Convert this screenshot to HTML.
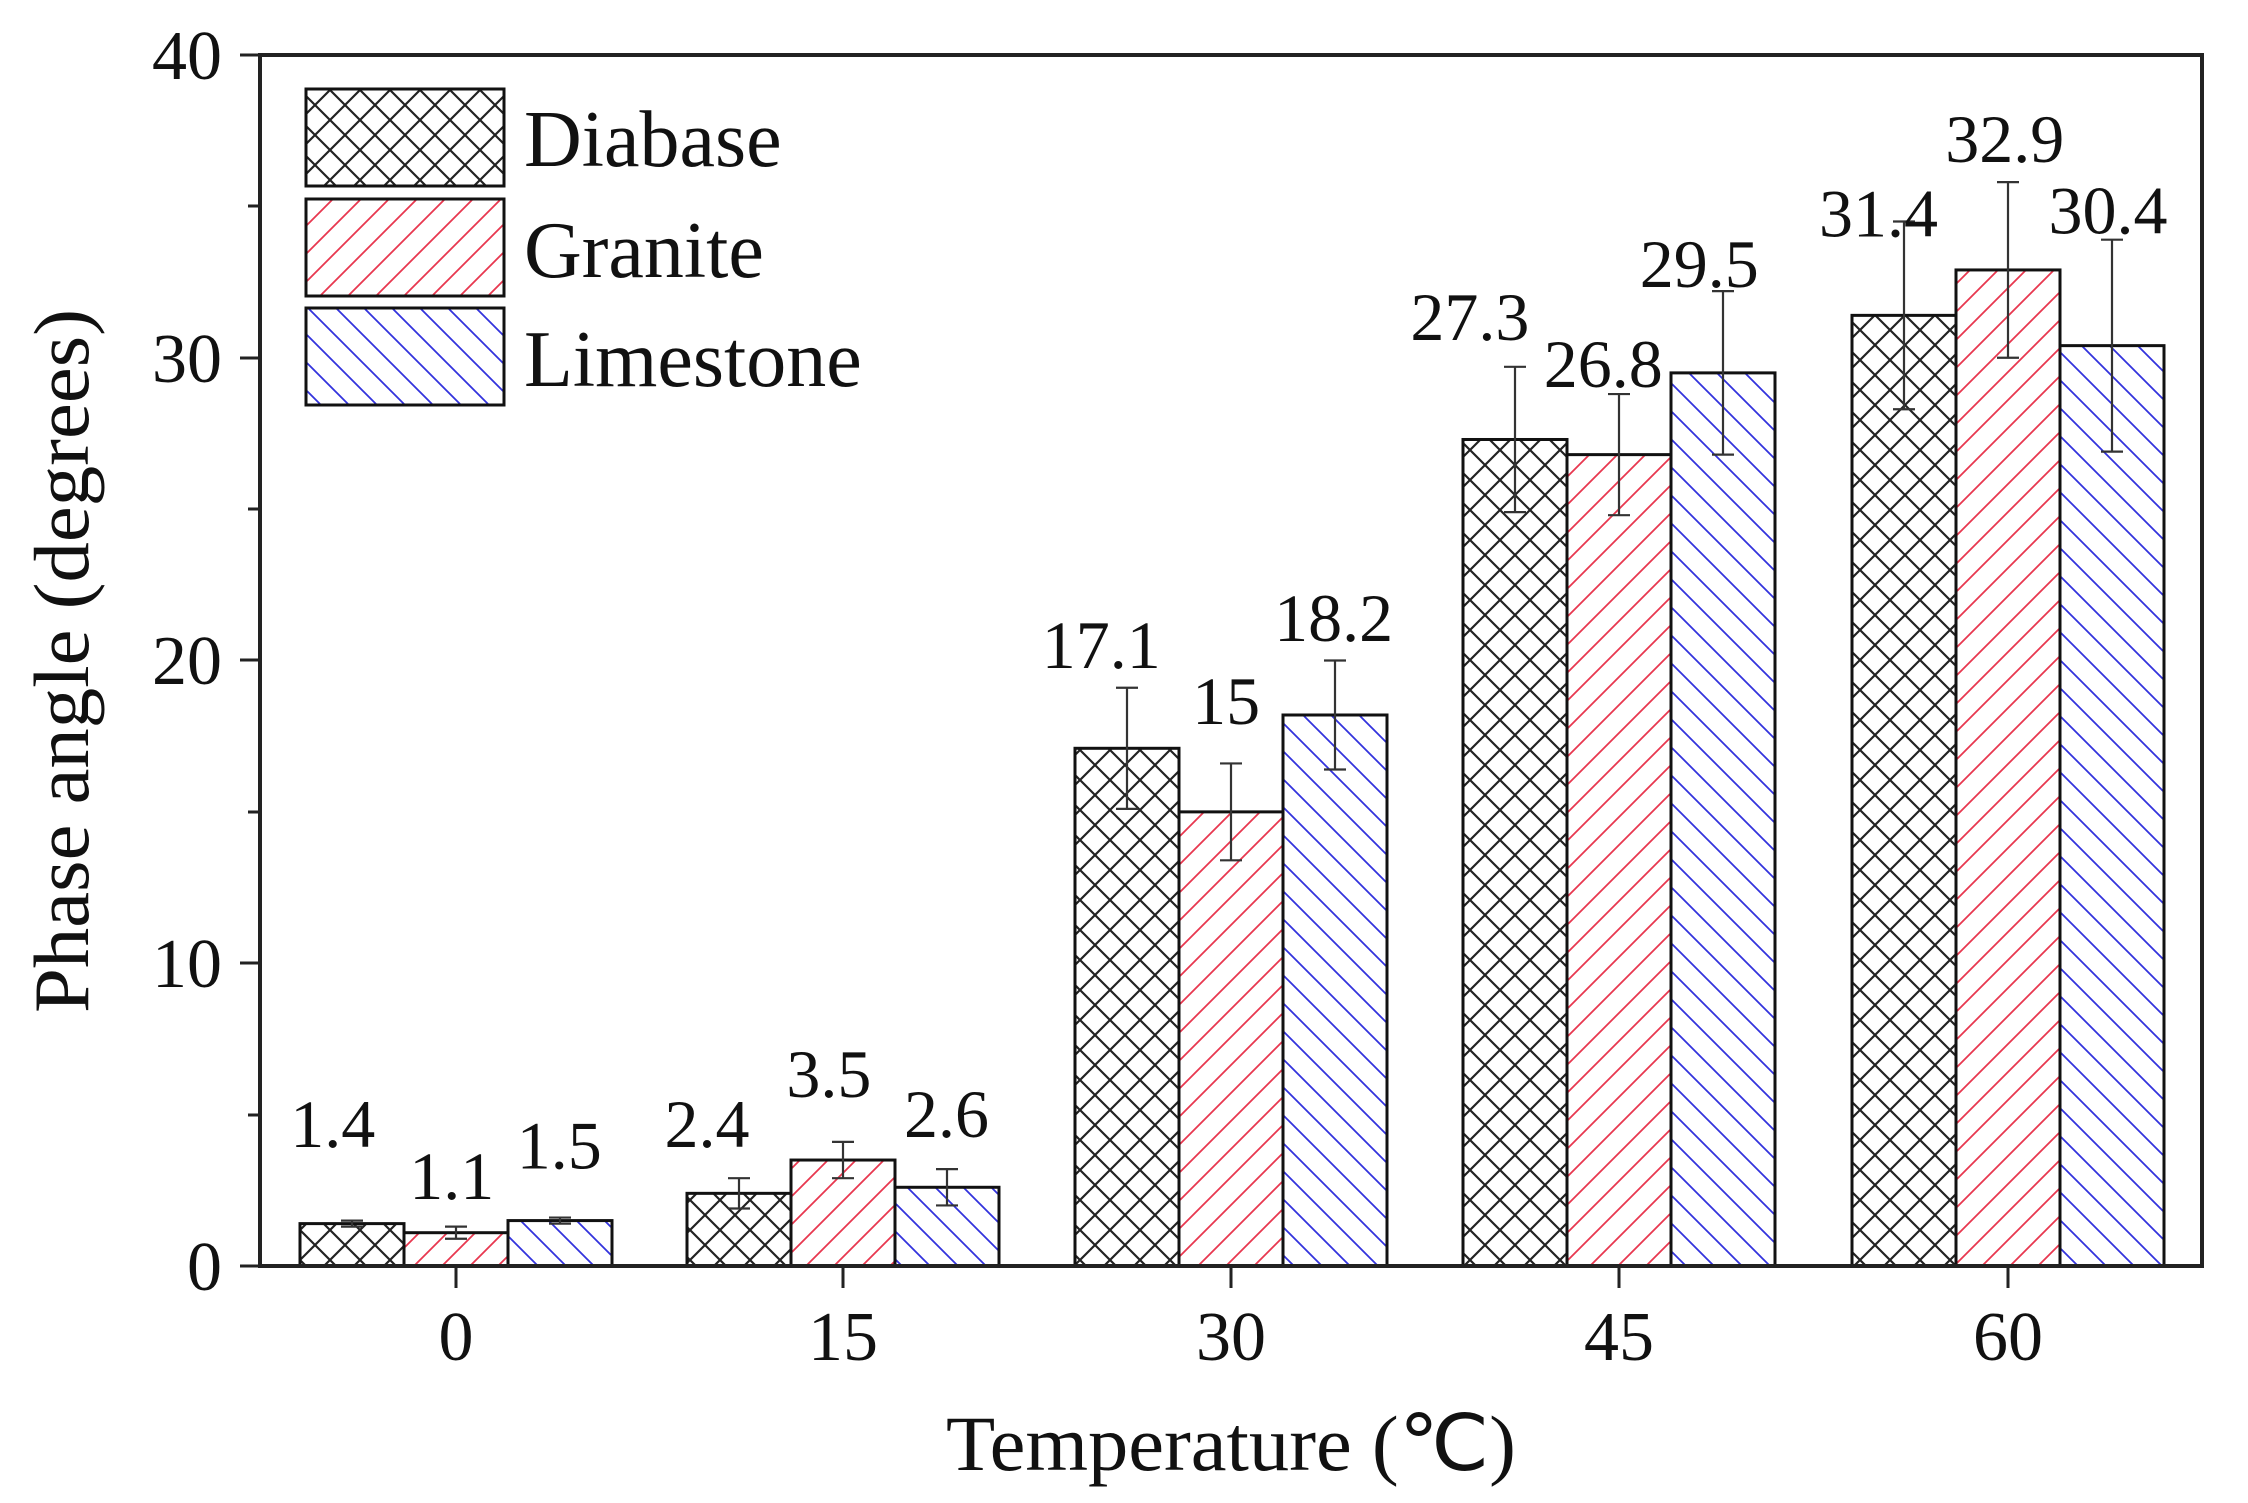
<!DOCTYPE html>
<html><head><meta charset="utf-8"><style>html,body{margin:0;padding:0;background:#fff}svg{display:block}</style></head>
<body>
<svg width="2248" height="1503" viewBox="0 0 2248 1503" xmlns="http://www.w3.org/2000/svg" font-family="'Liberation Serif', serif">
<defs>
<pattern id="pd" patternUnits="userSpaceOnUse" width="30" height="30">
<path d="M0,0 L30,30 M30,0 L0,30" stroke="#222" stroke-width="2.2"/>
</pattern>
<pattern id="pg" patternUnits="userSpaceOnUse" width="28" height="28">
<path d="M-6,6 L6,-6 M0,28 L28,0 M22,34 L34,22" stroke="#e8384f" stroke-width="1.8"/>
</pattern>
<pattern id="pl" patternUnits="userSpaceOnUse" width="28" height="28">
<path d="M-6,22 L6,34 M0,0 L28,28 M22,-6 L34,6" stroke="#3333dd" stroke-width="1.8"/>
</pattern>
</defs>
<rect width="2248" height="1503" fill="#fff"/>
<g id="bars" stroke="#111" stroke-width="3"></g>
<g id="err" stroke="#333" stroke-width="2.2" fill="none"></g>
<g id="labels" font-size="68" text-anchor="middle" fill="#111"></g>
<rect x="260" y="55" width="1942" height="1211" fill="none" stroke="#222" stroke-width="4"/>
<g stroke="#222" stroke-width="3">
<line x1="240" y1="1266" x2="260" y2="1266"/><line x1="240" y1="963" x2="260" y2="963"/><line x1="240" y1="660" x2="260" y2="660"/><line x1="240" y1="358" x2="260" y2="358"/><line x1="240" y1="55" x2="260" y2="55"/>
<line x1="248" y1="1115" x2="260" y2="1115"/><line x1="248" y1="812" x2="260" y2="812"/><line x1="248" y1="509" x2="260" y2="509"/><line x1="248" y1="206" x2="260" y2="206"/>
<line x1="456" y1="1266" x2="456" y2="1288"/><line x1="843" y1="1266" x2="843" y2="1288"/><line x1="1231" y1="1266" x2="1231" y2="1288"/><line x1="1619" y1="1266" x2="1619" y2="1288"/><line x1="2008" y1="1266" x2="2008" y2="1288"/>
</g>
<g font-size="70" text-anchor="end" fill="#111">
<text x="222" y="1290">0</text><text x="222" y="987">10</text><text x="222" y="684">20</text><text x="222" y="382">30</text><text x="222" y="79">40</text>
</g>
<g font-size="70" text-anchor="middle" fill="#111">
<text x="456" y="1360">0</text><text x="843" y="1360">15</text><text x="1231" y="1360">30</text><text x="1619" y="1360">45</text><text x="2008" y="1360">60</text>
</g>
<text x="1231" y="1470" font-size="78" text-anchor="middle" fill="#111" textLength="570" lengthAdjust="spacingAndGlyphs">Temperature (℃)</text>
<text transform="translate(88,661) rotate(-90)" font-size="78" text-anchor="middle" fill="#111" textLength="704" lengthAdjust="spacingAndGlyphs">Phase angle (degrees)</text>
<g stroke="#111" stroke-width="3">
<rect x="306" y="89" width="198" height="97" fill="url(#pd)"/>
<rect x="306" y="199" width="198" height="97" fill="url(#pg)"/>
<rect x="306" y="308" width="198" height="97" fill="url(#pl)"/>
</g>
<g font-size="80" fill="#111">
<text x="524" y="166">Diabase</text><text x="524" y="277">Granite</text><text x="524" y="386">Limestone</text>
</g>
<script>
(function(){
var ns="http://www.w3.org/2000/svg";
var centers=[456,843,1231,1619,2008];
var vals=[[1.4,1.1,1.5],[2.4,3.5,2.6],[17.1,15,18.2],[27.3,26.8,29.5],[31.4,32.9,30.4]];
var errs=[[0.1,0.2,0.1],[0.5,0.6,0.6],[2.0,1.6,1.8],[2.4,2.0,2.7],[3.1,2.9,3.5]];
var lx=[[232,315,390],[493,578,660],[768,855,930],[1025,1118,1185],[1310,1398,1470]];
var ly=[[800,836,815],[800,765,793],[466,505,447],[237,270,200],[165,113,163]];
var txt=[["1.4","1.1","1.5"],["2.4","3.5","2.6"],["17.1","15","18.2"],["27.3","26.8","29.5"],["31.4","32.9","30.4"]];
var fills=["url(#pd)","url(#pg)","url(#pl)"];
function Y(v){return 1266-v*30.275;}
var gb=document.getElementById("bars"),ge=document.getElementById("err"),gl=document.getElementById("labels");
for(var i=0;i<5;i++)for(var j=0;j<3;j++){
 var x0=centers[i]-156+j*104;
 var r=document.createElementNS(ns,"rect");
 r.setAttribute("x",x0);r.setAttribute("y",Y(vals[i][j]));r.setAttribute("width",104);r.setAttribute("height",vals[i][j]*30.275);
 r.setAttribute("fill",fills[j]);gb.appendChild(r);
 var cx=x0+52,t=Y(vals[i][j]+errs[i][j]),b=Y(vals[i][j]-errs[i][j]);
 var p=document.createElementNS(ns,"path");
 p.setAttribute("d","M"+cx+","+t+"V"+b+"M"+(cx-11)+","+t+"H"+(cx+11)+"M"+(cx-11)+","+b+"H"+(cx+11));
 ge.appendChild(p);
 var tx=document.createElementNS(ns,"text");
 tx.setAttribute("x",lx[i][j]*1.434);tx.setAttribute("y",ly[i][j]*1.434);tx.textContent=txt[i][j];gl.appendChild(tx);
}
})();
</script>
</svg>
</body></html>
